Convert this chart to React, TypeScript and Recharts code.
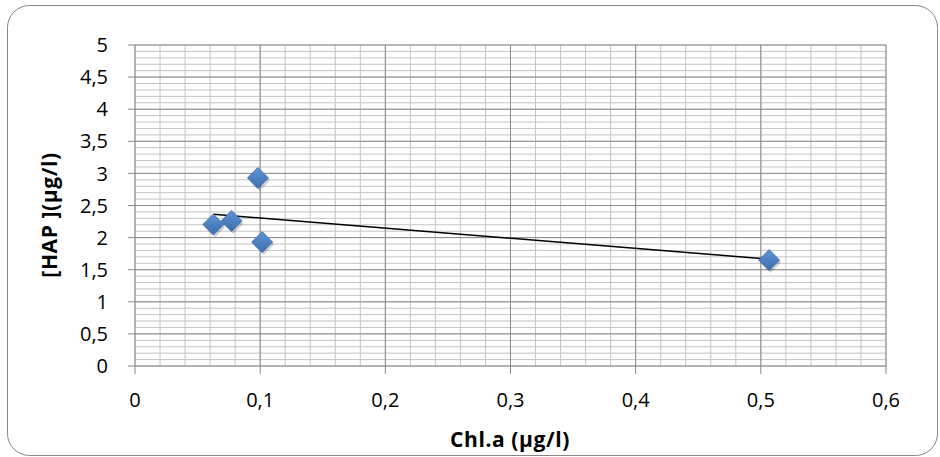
import React from "react";
import { ReferenceLine, Scatter, ScatterChart, XAxis, YAxis } from "recharts";

// Chl.a (µg/l) vs [HAP] (µg/l)
const chlA = [0.0626, 0.0772, 0.0982, 0.1016, 0.5066];
const hap = [2.205, 2.26, 2.93, 1.93, 1.65];

const xTicks = [0, 0.1, 0.2, 0.3, 0.4, 0.5, 0.6];
const yTicks = [0, 0.5, 1, 1.5, 2, 2.5, 3, 3.5, 4, 4.5, 5];
const xMinor = Array.from({ length: 31 }, (_, i) => i * 0.02);
const yMinor = Array.from({ length: 51 }, (_, i) => i * 0.1);

const points = chlA.map((x, i) => ({ x, y: hap[i] }));

// linear trendline (least squares) over the points
const n = points.length;
const mx = chlA.reduce((a, b) => a + b, 0) / n;
const my = hap.reduce((a, b) => a + b, 0) / n;
const slope =
  points.reduce((s, p) => s + (p.x - mx) * (p.y - my), 0) /
  points.reduce((s, p) => s + (p.x - mx) ** 2, 0);
const x0 = Math.min(...chlA);
const x1 = Math.max(...chlA);
const trend = [
  { x: x0, y: my + slope * (x0 - mx) },
  { x: x1, y: my + slope * (x1 - mx) },
];

const FONT = "'Open Sans', Lato, sans-serif";
const fmt = (v: number) => String(v).replace(".", ",");

const Diamond = (props: any) => {
  const { cx, cy } = props;
  const r = 10.5;
  const pts = (dx: number, dy: number) =>
    `${cx + dx},${cy + dy - r} ${cx + dx + r},${cy + dy} ${cx + dx},${cy + dy + r} ${cx + dx - r},${cy + dy}`;
  return (
    <g>
      <polygon points={pts(1.5, 2.5)} fill="#000" opacity={0.18} />
      <polygon points={pts(0, 0)} fill="url(#dgrad)" stroke="#3E6CA8" strokeWidth={0.8} />
    </g>
  );
};

export default function App() {
  return (
    <div style={{ position: "absolute", left: 0, top: 0, width: 940, height: 457, background: "#fff" }}>
      <svg width={940} height={457} style={{ position: "absolute", left: 0, top: 0 }}>
        <defs>
          <linearGradient id="dgrad" x1="0" y1="0" x2="0" y2="1">
            <stop offset="0%" stopColor="#5F93D3" />
            <stop offset="100%" stopColor="#3D6EB0" />
          </linearGradient>
        </defs>
        <rect x={7.5} y={5.5} width={930} height={450} rx={22} fill="none" stroke="#868686" strokeWidth={1} />
        <text
          x={510}
          y={447}
          textAnchor="middle"
          fontFamily={FONT}
          fontWeight="bold"
          fontSize={21}
          letterSpacing={0.6}
          fill="#000"
        >
          Chl.a (µg/l)
        </text>
        <text
          transform="translate(57,215) rotate(-90)"
          textAnchor="middle"
          fontFamily={FONT}
          fontWeight="bold"
          fontSize={21}
          letterSpacing={0.6}
          fill="#000"
        >
          [HAP ](µg/l)
        </text>
      </svg>
      <div style={{ position: "absolute", left: 0, top: 0 }}>
        <ScatterChart width={940} height={457} margin={{ top: 45, right: 54, bottom: 0, left: 0 }}>
          <XAxis
            type="number"
            dataKey="x"
            domain={[0, 0.6]}
            ticks={xTicks}
            tickFormatter={fmt}
            height={91}
            tickSize={8}
            tickMargin={19}
            stroke="#868686"
            tick={{ fill: "#000", fontSize: 20, fontFamily: FONT }}
            allowDataOverflow
          />
          <YAxis
            type="number"
            dataKey="y"
            domain={[0, 5]}
            ticks={yTicks}
            tickFormatter={fmt}
            width={135}
            tickSize={7}
            tickMargin={20}
            stroke="#868686"
            tick={{ fill: "#000", fontSize: 20, fontFamily: FONT }}
            allowDataOverflow
          />
          {xMinor.map((v) => (
            <ReferenceLine key={"xm" + v} x={v} stroke="#C4C4C4" strokeWidth={1} />
          ))}
          {yMinor.map((v) => (
            <ReferenceLine key={"ym" + v} y={v} stroke="#C4C4C4" strokeWidth={1} />
          ))}
          {xTicks.slice(1).map((v) => (
            <ReferenceLine key={"xM" + v} x={v} stroke="#8C8C8C" strokeWidth={1} />
          ))}
          {yTicks.slice(1).map((v) => (
            <ReferenceLine key={"yM" + v} y={v} stroke="#8C8C8C" strokeWidth={1} />
          ))}
          <Scatter
            data={trend}
            line={{ stroke: "#000", strokeWidth: 1.5 }}
            shape={() => <g />}
            isAnimationActive={false}
          />
          <Scatter data={points} shape={Diamond} isAnimationActive={false} />
        </ScatterChart>
      </div>
    </div>
  );
}
